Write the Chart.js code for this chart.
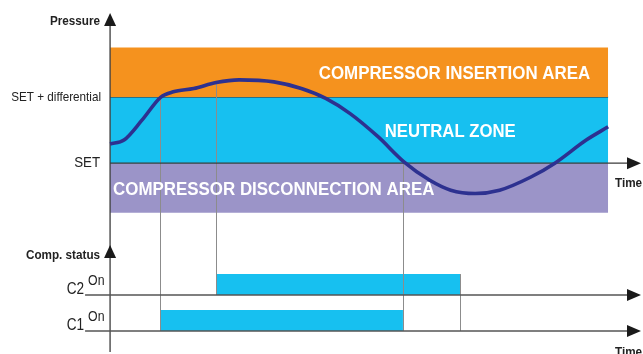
<!DOCTYPE html>
<html>
<head>
<title>Compressor neutral zone</title>
<script src="https://cdn.jsdelivr.net/npm/chart.js"></script>
<style>
  html, body { margin: 0; padding: 0; background: #fff; }
  #wrap { width: 643px; height: 354px; position: relative; }
</style>
</head>
<body>
<div id="wrap"><canvas id="zoneChart"></canvas></div>
<script>
// time: 0 = pressure axis, 100 = end of the zones
// pressure: 0 = SET, 1 = SET + differential
var pressureTime  = [0, 2.8, 6.4, 10.2, 12.7, 16.8, 21.3, 25.9, 32.9, 38.4, 43.3, 48.2, 53.8, 59.0, 64.2, 68.4, 73.3, 78.2, 84.5, 89.3, 95.6, 100];
var pressureValue = [0.29, 0.35, 0.65, 1.00, 1.08, 1.13, 1.22, 1.26, 1.23, 1.13, 0.98, 0.75, 0.40, 0.02, -0.26, -0.41, -0.46, -0.41, -0.21, 0.0, 0.35, 0.55];

var SET = 0, SET_DIFF = 1;
var zoneTop = 1.75, zoneBottom = -0.75, zoneEnd = 100;
var zoneNames = ['COMPRESSOR INSERTION AREA', 'NEUTRAL ZONE', 'COMPRESSOR DISCONNECTION AREA'];

// compressor status: level 0 = C1 off, 1 = C2 off
var compNames = ['C1', 'C2'];
var compStart = [10, 21.3];
var compStop  = [58.8, 70.3];
var onLevel = 0.58;

var timeRange = [-22.1, 107.0];
var pressureRange = [-2.89, 2.47];
var statusRange = [-0.64, 9.19];

var ORANGE = '#f5921e', CYAN = '#17c0f0', PURPLE = '#9b94c8', CURVE = '#2d3190', AXIS = '#3a3a3a';
var FONT = "'Liberation Sans', Arial, sans-serif";

function seg(t0, t1, v) {
  return [{x: t0, y: v}, {x: t1, y: v}];
}

var curve = pressureTime.map(function(t, i) { return {x: t, y: pressureValue[i]}; });

var datasets = [
  { // 0: pressure curve, drawn last
    data: curve, yAxisID: 'y', borderColor: CURVE, borderWidth: 3.6,
    pointRadius: 0, cubicInterpolationMode: 'monotone', fill: false
  },
  { data: seg(0, zoneEnd, zoneTop), yAxisID: 'y', borderWidth: 0, pointRadius: 0,
    backgroundColor: ORANGE, fill: {value: SET_DIFF} },
  { data: seg(0, zoneEnd, SET_DIFF), yAxisID: 'y', borderWidth: 1, borderColor: AXIS, pointRadius: 0,
    backgroundColor: CYAN, fill: {value: SET} },
  { data: seg(0, zoneEnd, zoneBottom), yAxisID: 'y', borderWidth: 0, pointRadius: 0,
    backgroundColor: PURPLE, fill: {value: SET} }
];
compNames.forEach(function(n, i) {
  datasets.push({ data: seg(compStart[i], compStop[i], i + onLevel), yAxisID: 'y2', borderWidth: 0,
    pointRadius: 0, backgroundColor: CYAN, fill: {value: i} });
});

function arrowHead(ctx, x, y, dir) {
  ctx.beginPath();
  if (dir === 'up') { ctx.moveTo(x, y); ctx.lineTo(x - 6, y + 13); ctx.lineTo(x + 6, y + 13); }
  else { ctx.moveTo(x, y); ctx.lineTo(x - 14, y - 6); ctx.lineTo(x - 14, y + 6); }
  ctx.closePath();
  ctx.fill();
}

function text(ctx, s, x, y, font, align, squeeze, color) {
  ctx.save();
  ctx.font = font;
  ctx.fillStyle = color || '#222';
  ctx.textAlign = align;
  ctx.textBaseline = 'middle';
  ctx.translate(x, y);
  ctx.scale(squeeze, 1);
  ctx.fillText(s, 0, 0);
  ctx.restore();
}

var diagram = {
  id: 'diagram',
  beforeDatasetDraw: function(chart, args) {
    if (args.index !== 0) return;
    var ctx = chart.ctx, sx = chart.scales.x, sy = chart.scales.y, s2 = chart.scales.y2;
    var x0 = sx.getPixelForValue(0);
    var right = chart.chartArea.right - 2;
    var c1 = s2.getPixelForValue(0);

    // guide lines at the switching instants
    var guideTop = [sy.getPixelForValue(SET_DIFF), sy.getPixelForValue(1.22), sy.getPixelForValue(SET), s2.getPixelForValue(1 + onLevel)];
    var guideBottom = [c1, s2.getPixelForValue(1), c1, c1];
    var guideTime = [compStart[0], compStart[1], compStop[0], compStop[1]];
    ctx.save();
    ctx.strokeStyle = '#8c8c8c';
    ctx.lineWidth = 1;
    guideTime.forEach(function(t, i) {
      var gx = Math.round(sx.getPixelForValue(t)) + 0.5;
      ctx.beginPath(); ctx.moveTo(gx, guideTop[i]); ctx.lineTo(gx, guideBottom[i]); ctx.stroke();
    });

    // axes
    ctx.strokeStyle = AXIS; ctx.fillStyle = '#1a1a1a'; ctx.lineWidth = 1.3;
    var pTop = 13;
    ctx.beginPath(); ctx.moveTo(x0, pTop + 6); ctx.lineTo(x0, chart.chartArea.bottom - 2); ctx.stroke();
    arrowHead(ctx, x0, pTop, 'up');
    var ySet = sy.getPixelForValue(SET);
    ctx.beginPath(); ctx.moveTo(x0, ySet); ctx.lineTo(right - 6, ySet); ctx.stroke();
    arrowHead(ctx, right, ySet, 'right');
    var statusTip = s2.getPixelForValue(1) - 50;
    arrowHead(ctx, x0, statusTip, 'up');
    ctx.strokeStyle = '#555'; ctx.lineWidth = 1.6;
    compNames.forEach(function(n, i) {
      var ly = s2.getPixelForValue(i);
      ctx.beginPath(); ctx.moveTo(x0 - 25, ly); ctx.lineTo(right - 6, ly); ctx.stroke();
      arrowHead(ctx, right, ly, 'right');
    });
    ctx.restore();

    // texts
    var bold = 'bold 13px ' + FONT;
    text(ctx, 'Pressure', x0 - 10, 21, bold, 'right', 0.9);
    text(ctx, 'SET + differential', x0 - 9, sy.getPixelForValue(SET_DIFF), '13px ' + FONT, 'right', 0.9);
    text(ctx, 'SET', x0 - 10, ySet, '14px ' + FONT, 'right', 0.95);
    text(ctx, 'Time', right - 26, ySet + 20, bold, 'left', 0.9);
    text(ctx, 'Comp. status', x0 - 10, statusTip + 10, bold, 'right', 0.9);
    compNames.forEach(function(n, i) {
      var ly = s2.getPixelForValue(i);
      text(ctx, n, x0 - 26, ly - 5, '16px ' + FONT, 'right', 0.85);
      text(ctx, 'On', x0 - 22, ly - 14, '15px ' + FONT, 'left', 0.82);
    });
    text(ctx, 'Time', right - 26, s2.getPixelForValue(0) + 21, bold, 'left', 0.9);

    var zb = 'bold 19px ' + FONT;
    text(ctx, zoneNames[0], sx.getPixelForValue(96.4), sy.getPixelForValue(1.36), zb, 'right', 0.89, '#fff');
    text(ctx, zoneNames[1], sx.getPixelForValue(68.3), sy.getPixelForValue(0.47), zb, 'center', 0.88, '#fff');
    text(ctx, zoneNames[2], sx.getPixelForValue(0.6), sy.getPixelForValue(-0.41), zb, 'left', 0.89, '#fff');
  }
};

new Chart(document.getElementById('zoneChart').getContext('2d'), {
  type: 'line',
  data: { datasets: datasets },
  options: {
    responsive: true,
    maintainAspectRatio: false,
    animation: false,
    layout: { padding: 0 },
    scales: {
      x: { type: 'linear', min: timeRange[0], max: timeRange[1], display: false },
      y: { type: 'linear', min: pressureRange[0], max: pressureRange[1], display: false },
      y2: { type: 'linear', min: statusRange[0], max: statusRange[1], display: false }
    },
    plugins: { legend: { display: false }, tooltip: { enabled: false } }
  },
  plugins: [diagram]
});
</script>
</body>
</html>
